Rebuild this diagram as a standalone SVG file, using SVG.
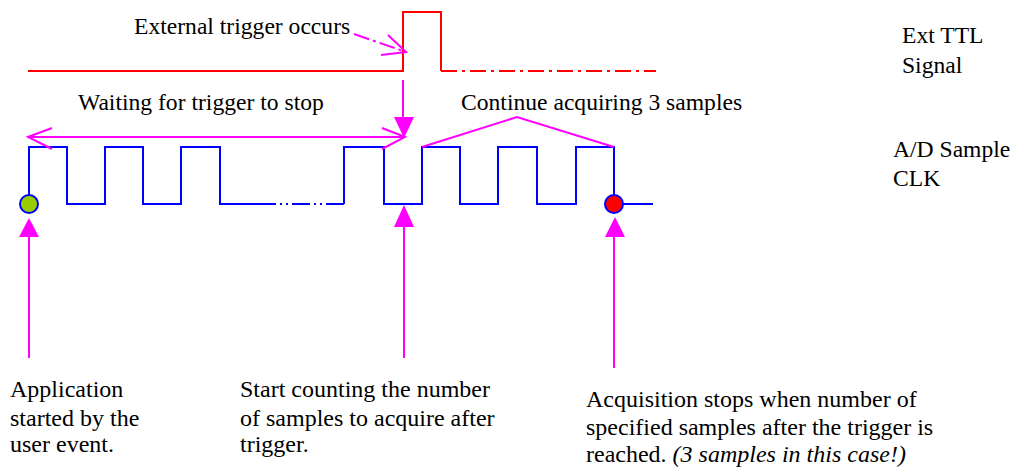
<svg xmlns="http://www.w3.org/2000/svg" width="1017" height="468" viewBox="0 0 1017 468">
<style>
text{font-size:24px;fill:#000}
.top{font-size:23.6px}
.red{fill:none;stroke:#FF0000;stroke-width:2}
.blue{fill:none;stroke:#0000FF;stroke-width:2}
.mag{fill:none;stroke:#FF00FF;stroke-width:2}
.magf{fill:#FF00FF;stroke:none}
</style>
<rect width="1017" height="468" fill="#fff"/>
<g id="ext-ttl-signal">
<path class="red" d="M28,71 H403 V12 H441 V71"/>
<path class="red" d="M441,71 H656" stroke-dasharray="16 5 3 5"/>
</g>
<g id="ad-sample-clk">
<path class="blue" d="M29,195 V147 H67 V204 H105 V147 H143 V204 H181 V147 H220 V204 H258"/>
<path class="blue" d="M258,204 H344" stroke-dasharray="18 4 2 4 2 4"/>
<path class="blue" d="M344,204 V147 H384 V204 H422 V147 H460 V204 H498 V147 H537 V204 H576 V147 H614 V195"/>
<path class="blue" d="M623,204 H653"/>
</g>
<g id="start-marker"><circle cx="29" cy="204" r="9" fill="#99CC00" stroke="#0000FF" stroke-width="2"/></g>
<g id="stop-marker"><circle cx="614" cy="204" r="9" fill="#FF0000" stroke="#0000FF" stroke-width="2"/></g>
<g id="connectors">
<path class="mag" d="M354,34 L406,52" stroke-dasharray="16 4 3 4"/>
<path class="mag" d="M388,35 L406,52 L381,55"/>
<path class="mag" d="M28,137 H405"/>
<path class="mag" d="M52,128 L28,137 L52,149"/>
<path class="mag" d="M382,128 L405,137 L382,149"/>
<path class="mag" d="M403,80 V120"/>
<polygon class="magf" points="394,117 414,117 404,138"/>
<path class="mag" d="M422,147 L517,117 L614,147"/>
<polygon class="magf" points="29,218 19,237 39,237"/>
<path class="mag" d="M29,236 V358"/>
<polygon class="magf" points="404,205 394,227 414,227"/>
<path class="mag" d="M404,226 V358"/>
<polygon class="magf" points="615,217 605,237 625,237"/>
<path class="mag" d="M614,236 V368"/>
</g>
<g font-family="'Liberation Serif', 'Times New Roman', Times, serif">
<g id="label-trigger"><text class="top" x="134" y="34">External trigger occurs</text></g>
<g id="label-waiting"><text class="top" x="78" y="110">Waiting for trigger to stop</text></g>
<g id="label-continue"><text class="top" x="461" y="110">Continue acquiring 3 samples</text></g>
<g id="label-ext-ttl"><text class="top" x="902" y="43">Ext TTL</text><text class="top" x="902" y="73">Signal</text></g>
<g id="label-ad-clk"><text class="top" x="893" y="157">A/D Sample</text><text class="top" x="893" y="186">CLK</text></g>
<g id="note-start"><text x="10" y="397">Application</text><text x="10" y="426">started by the</text><text x="10" y="452">user event.</text></g>
<g id="note-count"><text x="240" y="397">Start counting the number</text><text x="240" y="426">of samples to acquire after</text><text x="240" y="452">trigger.</text></g>
<g id="note-stop"><text x="586" y="407">Acquisition stops when number of</text><text x="586" y="435">specified samples after the trigger is</text><text x="586" y="462">reached. <tspan font-style="italic">(3 samples in this case!)</tspan></text></g>
</g>
</svg>
